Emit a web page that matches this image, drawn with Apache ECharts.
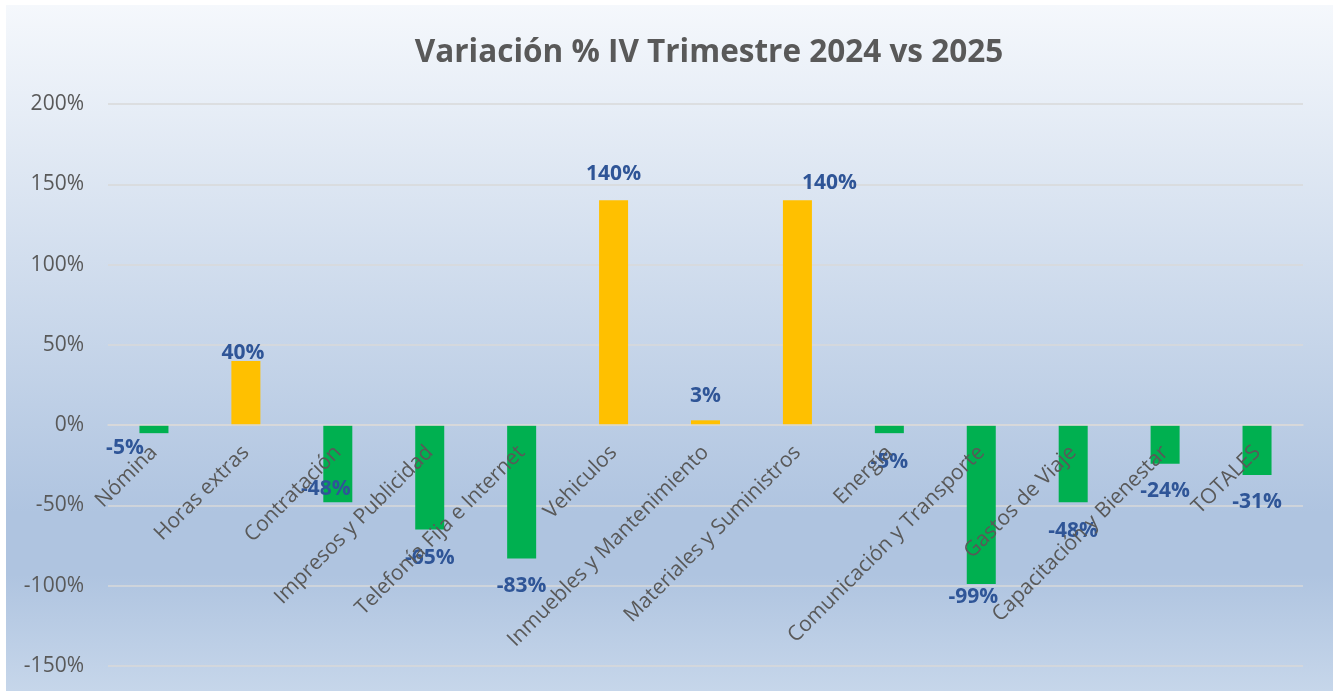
<!DOCTYPE html>
<html>
<head>
<meta charset="utf-8">
<title>Variación % IV Trimestre 2024 vs 2025</title>
<script src="https://cdn.jsdelivr.net/npm/echarts@6/dist/echarts.min.js"></script>
<style>
  html, body { margin: 0; padding: 0; background: #ffffff; }
  #chart {
    position: absolute; left: 6px; top: 5px; width: 1327px; height: 686px;
    background: linear-gradient(to bottom, #f5f8fc 0%, #afc4e0 74%, #afc4e0 83%, #c6d6ea 100%);
  }
</style>
</head>
<body>
<div id="chart"></div>
<script>
// datos del grafico
var categories = ['Nómina', 'Horas extras', 'Contratación', 'Impresos y Publicidad', 'Telefonía Fija e Internet',
    'Vehiculos', 'Inmuebles y Mantenimiento', 'Materiales y Suministros', 'Energía',
    'Comunicación y Transporte', 'Gastos de Viaje', 'Capacitación y Bienestar', 'TOTALES'];
var variation = [-5, 40, -48, -65, -83, 140, 3, 140, -5, -99, -48, -24, -31];
var yTicks = { min: -150, max: 200, step: 50 };

// desplazamiento de las etiquetas (como quedaron movidas en el original)
var labelShift = [[-29, -1], [-3, 8], [-12, -29], [0, 13], [0, 12], [0, -11], [0, -9],
    [32, -2], [0, 13], [-8, -3], [0, 13], [0, 12], [0, 12]];

var gridTop = 99, gridBottom = 25, chartH = 686;
var plotH = chartH - gridTop - gridBottom;
// el eje de categorias va sobre la linea del 0%
var zeroOffset = -plotH * (0 - yTicks.min) / (yTicks.max - yTicks.min);

var myChart = echarts.init(document.getElementById('chart'));

var barData = variation.map(function (v, i) {
    return {
        value: v,
        itemStyle: { color: v >= 0 ? '#FFC000' : '#00B050' },
        label: {
            position: v >= 0 ? 'top' : 'bottom',
            offset: labelShift[i]
        }
    };
});

var option = {
    backgroundColor: 'transparent',
    title: {
        text: 'Variación % IV Trimestre 2024 vs 2025',
        left: 703,
        top: 30,
        padding: 0,
        textAlign: 'center',
        textStyle: {
            fontFamily: 'Open Sans',
            fontSize: 31.5,
            fontWeight: 'bold',
            color: '#595959',
            lineHeight: 36
        }
    },
    grid: {
        left: 102,
        right: 30,
        top: gridTop,
        bottom: gridBottom,
        containLabel: false,
        outerBoundsMode: 'none'
    },
    xAxis: {
        type: 'category',
        data: categories,
        position: 'bottom',
        offset: zeroOffset,
        z: 3,
        axisLine: { show: true, onZero: false, lineStyle: { color: '#d9d9d9', width: 1.5 } },
        axisTick: { show: false },
        axisLabel: {
            interval: 0,
            rotate: 45,
            margin: 24,
            hideOverlap: false,
            fontFamily: 'Open Sans',
            fontSize: 21,
            color: '#595959'
        }
    },
    yAxis: {
        type: 'value',
        min: yTicks.min,
        max: yTicks.max,
        interval: yTicks.step,
        axisLine: { show: false },
        axisTick: { show: false },
        axisLabel: {
            margin: 24,
            fontFamily: 'Open Sans',
            fontSize: 21,
            color: '#595959',
            formatter: '{value}%'
        },
        splitLine: { lineStyle: { color: '#d9d9d9', width: 1.5 } }
    },
    series: [{
        type: 'bar',
        data: barData,
        barWidth: 29,
        label: {
            show: true,
            distance: 5,
            fontFamily: 'Open Sans',
            fontSize: 21,
            fontWeight: 'bold',
            color: '#2F5597',
            formatter: function (p) { return Math.round(p.value) + '%'; }
        }
    }]
};
myChart.setOption(option);
</script>
</body>
</html>
